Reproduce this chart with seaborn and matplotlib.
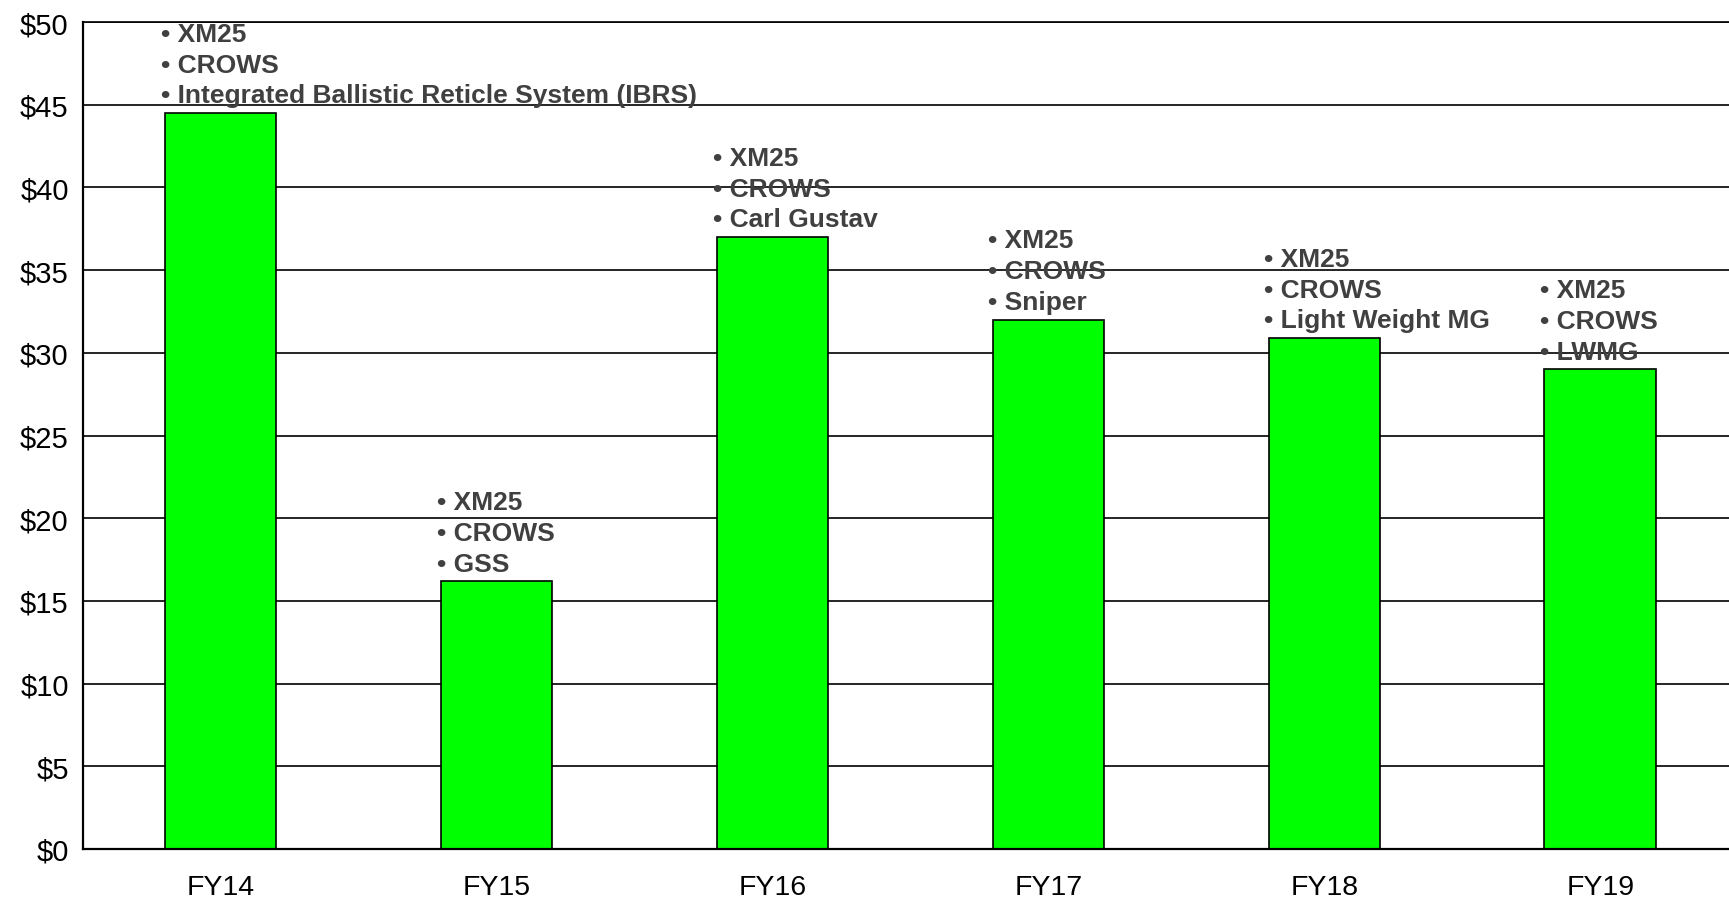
import matplotlib
matplotlib.use("Agg")
import matplotlib.pyplot as plt
import seaborn as sns
import pandas as pd

years = ["FY14", "FY15", "FY16", "FY17", "FY18", "FY19"]
spend = [44.5, 16.2, 37.0, 32.0, 30.9, 29.0]
programs = [
    ["XM25", "CROWS", "Integrated Ballistic Reticle System (IBRS)"],
    ["XM25", "CROWS", "GSS"],
    ["XM25", "CROWS", "Carl Gustav"],
    ["XM25", "CROWS", "Sniper"],
    ["XM25", "CROWS", "Light Weight MG"],
    ["XM25", "CROWS", "LWMG"],
]
y_ticks = list(range(0, 55, 5))


def funding_chart():
    sns.set_style("white")
    plt.rcParams["font.family"] = ["Liberation Sans", "DejaVu Sans"]

    df = pd.DataFrame({"year": years, "spend": spend})
    bar_width = 0.404

    fig = plt.figure(figsize=(17.29, 9.03), dpi=100)
    ax = fig.add_axes([0.0478, 0.0587, 0.9575, 0.9158])

    sns.barplot(
        data=df,
        x="year",
        y="spend",
        color="#00FF00",
        saturation=1,
        width=bar_width,
        edgecolor="black",
        linewidth=1.2,
        ax=ax,
        zorder=3,
    )

    ax.set_xlim(-0.5, len(years) - 0.5)
    ax.set_ylim(0, 50)
    ax.set_yticks(y_ticks)
    ax.set_yticklabels([f"${t}" for t in y_ticks], fontsize=21, color="black")
    ax.yaxis.grid(True, color="black", linewidth=1.2, zorder=0)
    ax.set_axisbelow(True)

    # category ticks sit between bars, labels sit under bars
    ax.set_xticks([i - 0.5 for i in range(len(years) + 1)])
    ax.set_xticklabels([])
    ax.set_xticks(range(len(years)), minor=True)
    ax.set_xticklabels(years, minor=True, fontsize=20.5, color="black")
    ax.tick_params(axis="x", which="major", direction="out", length=6, width=1.5, color="black")
    ax.tick_params(axis="x", which="minor", length=0, pad=18)
    ax.tick_params(axis="y", direction="out", length=7, width=1.5, color="black", pad=3)
    ax.set_xlabel("")
    ax.set_ylabel("")

    ax.spines["right"].set_visible(False)
    ax.spines["top"].set_linewidth(1.2)
    ax.spines["top"].set_color("black")
    for side in ["left", "bottom"]:
        ax.spines[side].set_linewidth(1.6)
        ax.spines[side].set_color("black")
        ax.spines[side].set_zorder(4)

    for i, (v, items) in enumerate(zip(spend, programs)):
        text = "\n".join("\u2022 " + s for s in items)
        ax.annotate(
            text,
            xy=(i - bar_width / 2, v),
            xytext=(-3, 4),
            textcoords="offset points",
            ha="left",
            va="bottom",
            fontsize=19,
            fontweight="bold",
            color="#404040",
            linespacing=1.36,
            zorder=5,
            annotation_clip=False,
        )

    fig.savefig("out.png", dpi=100)


if __name__ == "__main__":
    funding_chart()
